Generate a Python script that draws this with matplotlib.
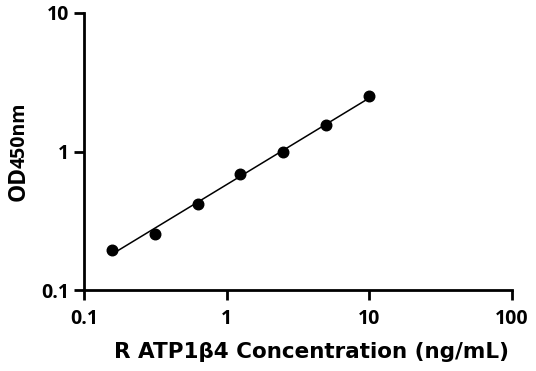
import numpy as np
import matplotlib
matplotlib.use("Agg")
import matplotlib.pyplot as plt

conc = [0.156, 0.3125, 0.625, 1.25, 2.5, 5, 10]
od = [0.196, 0.255, 0.420, 0.693, 0.988, 1.56, 2.52]
xticks = [0.1, 1, 10, 100]
xticklabels = ["0.1", "1", "10", "100"]
yticks = [0.1, 1, 10]
yticklabels = ["0.1", "1", "10"]

plt.rcParams['font.family'] = ['Open Sans', 'DejaVu Sans']

W, H = 536, 371
fig = plt.figure(figsize=(W/100, H/100), dpi=100)
ax = fig.add_axes([84/W, 1-290/H, (512-84)/W, (290-13)/H])

# log-log linear fit of the standards
lx = np.log10(conc)
ly = np.log10(od)
coef = np.polyfit(lx, ly, 1)
xs = np.linspace(lx.min(), lx.max(), 200)
ax.plot(10**xs, 10**np.polyval(coef, xs), color='black', lw=1.1, zorder=2)
ax.plot(conc, od, 'o', color='black', ms=7.6, mew=1, zorder=3, clip_on=False)

ax.set_xscale('log')
ax.set_yscale('log')
ax.set_xlim(0.1, 100)
ax.set_ylim(0.1, 10)
ax.set_xticks(xticks)
ax.set_xticklabels(xticklabels)
ax.set_yticks(yticks)
ax.set_yticklabels(yticklabels)
ax.minorticks_off()
for s in ['top', 'right']:
    ax.spines[s].set_visible(False)
for s in ['left', 'bottom']:
    ax.spines[s].set_linewidth(2)
ax.tick_params(axis='both', which='major', direction='out', length=7.5, width=2,
               labelsize=14)
ax.tick_params(axis='x', pad=6.5)
ax.tick_params(axis='y', pad=3)
for lab in ax.get_xticklabels() + ax.get_yticklabels():
    lab.set_fontweight('bold')

fig.text(311.5/W, 1-358/H, "R ATP1β4 Concentration (ng/mL)", fontsize=15.5,
         fontweight='bold', family=['DejaVu Sans'], ha='center', va='baseline')

t1 = fig.text(25/W, 1-201/H, "OD", rotation=90, rotation_mode='anchor',
              fontsize=16.5, fontweight='bold', ha='left', va='baseline')
fig.canvas.draw()
bb = t1.get_window_extent(fig.canvas.get_renderer())
fig.text(25/W, (bb.y1 - 2)/H, "450nm", rotation=90, rotation_mode='anchor',
         fontsize=14, fontweight='bold', ha='left', va='baseline')

fig.savefig("out.png", dpi=100)
